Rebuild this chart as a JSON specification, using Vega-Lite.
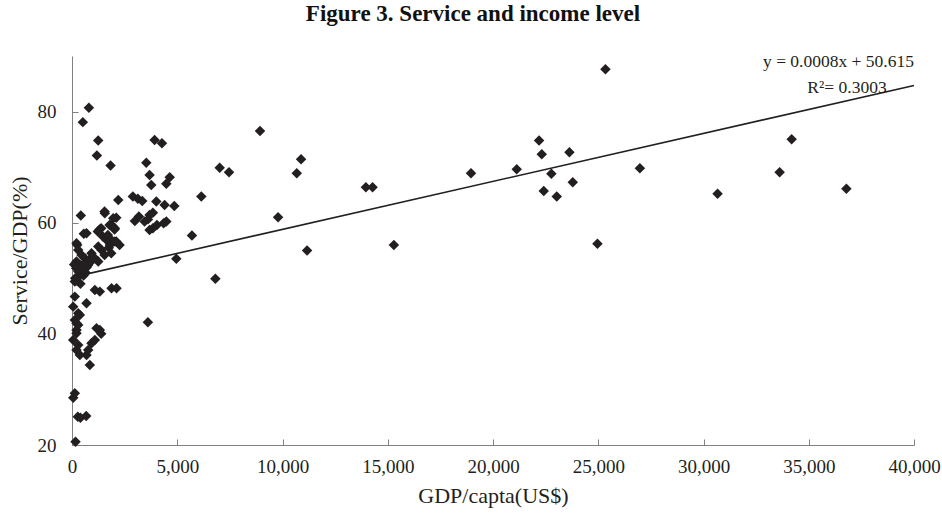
{
  "$schema": "https://vega.github.io/schema/vega-lite/v6.json",
  "autosize": "none",
  "width": 842,
  "height": 389,
  "padding": {"left": 72, "top": 56, "right": 28, "bottom": 74},
  "background": "white",
  "title": {
    "text": "Figure 3. Service and income level",
    "font": "Liberation Serif",
    "fontSize": 23,
    "fontWeight": "bold",
    "color": "#111111",
    "anchor": "middle",
    "dx": -20,
    "offset": 27
  },
  "datasets": {
    "points": [
      {"gdp": 25342, "service": 87.6}, {"gdp": 22188, "service": 74.8}, {"gdp": 22316, "service": 72.3},
      {"gdp": 23630, "service": 72.7}, {"gdp": 21127, "service": 69.6}, {"gdp": 22773, "service": 68.8},
      {"gdp": 23790, "service": 67.3}, {"gdp": 22410, "service": 65.7}, {"gdp": 23028, "service": 64.7},
      {"gdp": 24962, "service": 56.2}, {"gdp": 26977, "service": 69.8}, {"gdp": 30669, "service": 65.2},
      {"gdp": 33617, "service": 69.1}, {"gdp": 34188, "service": 75.0}, {"gdp": 36787, "service": 66.1},
      {"gdp": 8932, "service": 76.5}, {"gdp": 7458, "service": 69.1}, {"gdp": 7015, "service": 69.9},
      {"gdp": 10883, "service": 71.4}, {"gdp": 10678, "service": 68.9}, {"gdp": 9789, "service": 61.0},
      {"gdp": 11168, "service": 55.0}, {"gdp": 13960, "service": 66.4}, {"gdp": 14278, "service": 66.4},
      {"gdp": 15292, "service": 56.0}, {"gdp": 18954, "service": 68.9}, {"gdp": 6144, "service": 64.7},
      {"gdp": 5698, "service": 57.7}, {"gdp": 4956, "service": 53.5}, {"gdp": 6811, "service": 49.9},
      {"gdp": 3605, "service": 42.1},
      {"gdp": 802, "service": 80.7}, {"gdp": 514, "service": 78.1}, {"gdp": 1245, "service": 74.8},
      {"gdp": 1181, "service": 72.1}, {"gdp": 1831, "service": 70.3}, {"gdp": 3924, "service": 74.9},
      {"gdp": 4272, "service": 74.3}, {"gdp": 3529, "service": 70.8}, {"gdp": 3686, "service": 68.6},
      {"gdp": 3765, "service": 66.8}, {"gdp": 4640, "service": 68.2}, {"gdp": 4480, "service": 67.0},
      {"gdp": 2197, "service": 64.1}, {"gdp": 2892, "service": 64.7}, {"gdp": 3130, "service": 64.3},
      {"gdp": 3339, "service": 63.9}, {"gdp": 4005, "service": 63.8}, {"gdp": 4399, "service": 63.2},
      {"gdp": 4861, "service": 63.0}, {"gdp": 1546, "service": 62.0}, {"gdp": 1560, "service": 61.7},
      {"gdp": 3686, "service": 61.4}, {"gdp": 3843, "service": 61.8}, {"gdp": 3607, "service": 60.6},
      {"gdp": 2987, "service": 60.3}, {"gdp": 3177, "service": 61.1}, {"gdp": 3448, "service": 60.2},
      {"gdp": 4034, "service": 59.6}, {"gdp": 4352, "service": 59.9}, {"gdp": 3686, "service": 58.7},
      {"gdp": 3843, "service": 59.0}, {"gdp": 4480, "service": 60.2}, {"gdp": 2102, "service": 60.9},
      {"gdp": 1960, "service": 60.8}, {"gdp": 1864, "service": 59.6}, {"gdp": 2021, "service": 58.8},
      {"gdp": 1308, "service": 58.8}, {"gdp": 1466, "service": 57.5}, {"gdp": 1641, "service": 56.9},
      {"gdp": 1784, "service": 59.6}, {"gdp": 1941, "service": 59.3}, {"gdp": 1388, "service": 59.0},
      {"gdp": 1227, "service": 58.4}, {"gdp": 1703, "service": 57.8}, {"gdp": 1784, "service": 57.2},
      {"gdp": 2102, "service": 56.6}, {"gdp": 2259, "service": 56.0}, {"gdp": 1798, "service": 56.0},
      {"gdp": 1403, "service": 55.1}, {"gdp": 1246, "service": 55.7}, {"gdp": 1750, "service": 55.5},
      {"gdp": 1546, "service": 54.2}, {"gdp": 1864, "service": 54.5}, {"gdp": 2036, "service": 56.6},
      {"gdp": 2036, "service": 59.0},
      {"gdp": 420, "service": 61.3}, {"gdp": 561, "service": 58.0}, {"gdp": 690, "service": 58.1},
      {"gdp": 247, "service": 56.0}, {"gdp": 214, "service": 56.3}, {"gdp": 295, "service": 55.1},
      {"gdp": 452, "service": 54.2}, {"gdp": 609, "service": 53.6}, {"gdp": 927, "service": 54.5},
      {"gdp": 1086, "service": 53.6}, {"gdp": 1246, "service": 53.0}, {"gdp": 214, "service": 53.0},
      {"gdp": 371, "service": 52.4}, {"gdp": 770, "service": 52.4}, {"gdp": 100, "service": 52.5},
      {"gdp": 200, "service": 51.8}, {"gdp": 300, "service": 51.2}, {"gdp": 350, "service": 50.5},
      {"gdp": 150, "service": 50.0}, {"gdp": 250, "service": 49.5}, {"gdp": 400, "service": 49.0},
      {"gdp": 450, "service": 51.5}, {"gdp": 500, "service": 52.0}, {"gdp": 600, "service": 52.8},
      {"gdp": 700, "service": 52.0}, {"gdp": 800, "service": 53.3}, {"gdp": 900, "service": 53.0},
      {"gdp": 550, "service": 50.5}, {"gdp": 650, "service": 51.0}, {"gdp": 133, "service": 49.4},
      {"gdp": 1086, "service": 47.9}, {"gdp": 1322, "service": 47.6}, {"gdp": 1878, "service": 48.2},
      {"gdp": 2116, "service": 48.2}, {"gdp": 133, "service": 46.7}, {"gdp": 690, "service": 45.5},
      {"gdp": 56, "service": 44.9}, {"gdp": 295, "service": 43.7}, {"gdp": 371, "service": 43.4},
      {"gdp": 133, "service": 42.5}, {"gdp": 214, "service": 41.9}, {"gdp": 295, "service": 41.6},
      {"gdp": 214, "service": 40.7}, {"gdp": 1165, "service": 41.0}, {"gdp": 1322, "service": 40.7},
      {"gdp": 1388, "service": 40.0}, {"gdp": 214, "service": 40.1}, {"gdp": 56, "service": 38.9},
      {"gdp": 295, "service": 38.0}, {"gdp": 214, "service": 37.1}, {"gdp": 371, "service": 36.2},
      {"gdp": 690, "service": 36.2}, {"gdp": 770, "service": 37.1}, {"gdp": 927, "service": 38.3},
      {"gdp": 1086, "service": 38.9}, {"gdp": 847, "service": 34.4}, {"gdp": 133, "service": 29.3},
      {"gdp": 60, "service": 28.5}, {"gdp": 276, "service": 25.1}, {"gdp": 400, "service": 24.9},
      {"gdp": 675, "service": 25.2}, {"gdp": 166, "service": 20.6}
    ],
    "trend": [
      {"gdp": 100, "service": 50.25},
      {"gdp": 40000, "service": 84.7}
    ],
    "labels": [
      {"gdp": 40000, "service": 89.0, "label": "y = 0.0008x + 50.615"},
      {"gdp": 38700, "service": 84.3, "label": "R²= 0.3003"}
    ]
  },
  "encoding": {
    "x": {
      "field": "gdp", "type": "quantitative",
      "scale": {"domain": [0, 40000], "nice": false, "zero": false},
      "axis": {
        "title": "GDP/capta(US$)",
        "values": [0, 5000, 10000, 15000, 20000, 25000, 30000, 35000, 40000],
        "format": ",.0f",
        "labelFlush": false
      }
    },
    "y": {
      "field": "service", "type": "quantitative",
      "scale": {"domain": [20, 90], "nice": false, "zero": false},
      "axis": {
        "title": "Service/GDP(%)",
        "values": [20, 40, 60, 80],
        "format": "d"
      }
    }
  },
  "layer": [
    {
      "data": {"name": "points"},
      "mark": {"type": "point", "shape": "diamond", "filled": true, "size": 110, "color": "#231f20", "opacity": 1}
    },
    {
      "data": {"name": "trend"},
      "mark": {"type": "line", "color": "#231f20", "strokeWidth": 1.6}
    },
    {
      "data": {"name": "labels"},
      "mark": {"type": "text", "align": "right", "baseline": "middle", "font": "Liberation Serif", "fontSize": 17.5, "color": "#231f20"},
      "encoding": {"text": {"field": "label"}}
    }
  ],
  "config": {
    "view": {"stroke": null},
    "axis": {
      "grid": false,
      "domainColor": "#808080",
      "domainWidth": 1,
      "tickColor": "#808080",
      "tickSize": -6,
      "labelFont": "Liberation Serif",
      "labelFontSize": 19,
      "labelColor": "#231f20",
      "titleFont": "Liberation Serif",
      "titleFontSize": 22,
      "titleFontWeight": "normal",
      "titleColor": "#231f20"
    },
    "axisX": {"labelPadding": 18, "titlePadding": 9},
    "axisY": {"labelPadding": 22, "titlePadding": 6}
  }
}
